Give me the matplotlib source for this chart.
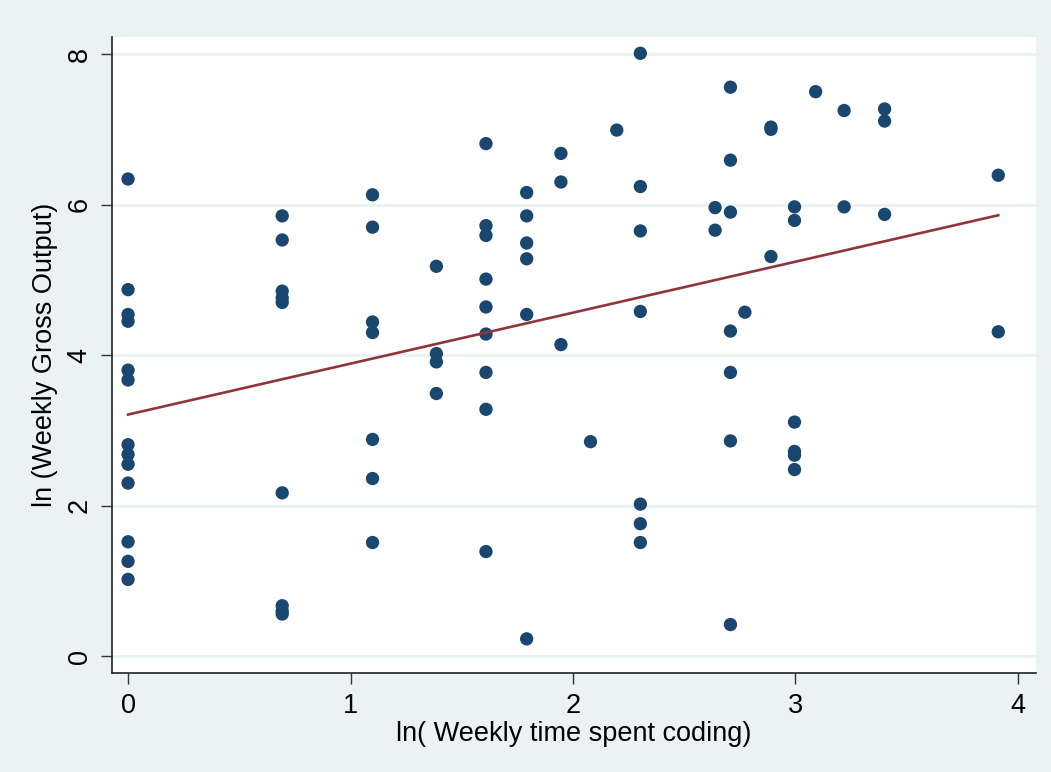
import numpy as np
from matplotlib import pyplot as plt

# ln(weekly hours coding) and ln(weekly gross output)
ln_time = [0.0] * 13 + [0.693] * 9 + [1.099] * 7 + [1.386] * 4 + [1.609] * 9 \
    + [1.792] * 6 + [1.946] * 3 + [2.079] + [2.197] + [2.303] * 7 + [2.639] * 2 \
    + [2.708] * 7 + [2.773] + [2.890] * 3 + [2.996] * 6 + [3.091] + [3.219] * 2 \
    + [3.401] * 3 + [3.912] * 2
ln_output = [6.34, 4.87, 4.54, 4.45, 3.80, 3.67, 2.81, 2.68, 2.55, 2.30, 1.52, 1.26, 1.02,
             5.85, 5.53, 4.85, 4.76, 4.70, 2.17, 0.67, 0.60, 0.56,
             6.13, 5.70, 4.44, 4.30, 2.88, 2.36, 1.51,
             5.18, 4.02, 3.91, 3.49,
             6.81, 5.72, 5.59, 5.01, 4.64, 4.28, 3.77, 3.28, 1.39,
             6.16, 5.85, 5.49, 5.28, 4.54, 0.23,
             6.68, 6.30, 4.14,
             2.85,
             6.99,
             8.01, 6.24, 5.65, 4.58, 2.02, 1.76, 1.51,
             5.96, 5.66,
             7.56, 6.59, 5.90, 4.32, 3.77, 2.86, 0.42,
             4.57,
             7.03, 7.00, 5.31,
             5.97, 5.79, 3.11, 2.72, 2.67, 2.48,
             7.50,
             7.25, 5.97,
             7.27, 7.11, 5.87,
             6.39, 4.31]

# linear fit as drawn in the chart (overlapping points hide some of the data)
fit_intercept = 3.21
fit_slope = 0.677

xticks = [0, 1, 2, 3, 4]
yticks = [0, 2, 4, 6, 8]

plt.rcParams['font.family'] = ['Liberation Sans', 'DejaVu Sans']

bg = "#eaf2f3"
fig = plt.figure(figsize=(10.51, 7.72), dpi=100, facecolor=bg)
ax = fig.add_axes([0.1066, 0.128, 0.879, 0.824])
ax.set_facecolor("white")

x = np.array(ln_time)
y = np.array(ln_output)

for t in yticks:
    ax.axhline(t, color=bg, linewidth=2, zorder=0)

ax.scatter(x, y, s=92, color="#1a476f", edgecolors="none", zorder=3)

xf = np.array([x.min(), x.max()])
ax.plot(xf, fit_intercept + fit_slope * xf, color="#90353b", linewidth=1.9, zorder=4)

ax.set_xlim(-0.072, 4.081)
ax.set_ylim(-0.226, 8.226)
ax.set_xticks(xticks)
ax.set_yticks(yticks)
ax.tick_params(direction="out", length=8, width=1, color="#333333",
               labelsize=19.5, pad=6)
for lab in ax.get_yticklabels():
    lab.set_rotation(90)
    lab.set_va("center")

for side in ["top", "right"]:
    ax.spines[side].set_visible(False)
for side in ["left", "bottom"]:
    ax.spines[side].set_color("#222222")
    ax.spines[side].set_linewidth(1.2)

ax.set_xlabel("ln( Weekly time spent coding)", fontsize=19.5, labelpad=2)
ax.set_ylabel("ln (Weekly Gross Output)", fontsize=19.5, labelpad=6)

fig.savefig("out.png", dpi=100, facecolor=bg)
